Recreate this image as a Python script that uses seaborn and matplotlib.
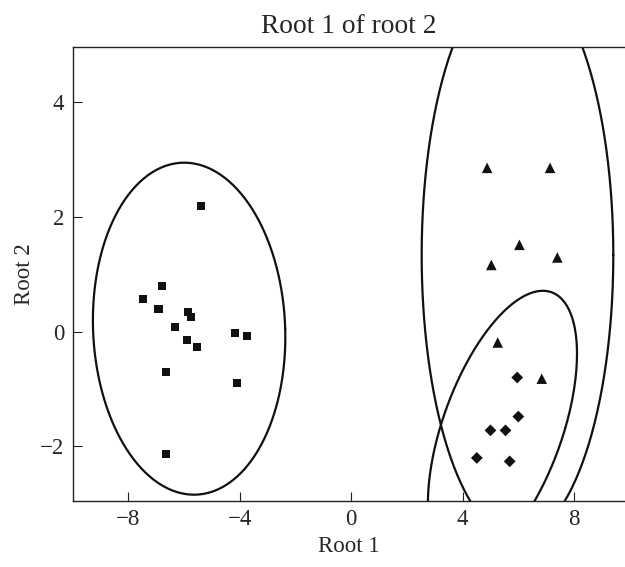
import numpy as np
import pandas as pd
import matplotlib
matplotlib.use("Agg")
import matplotlib.pyplot as plt
import seaborn as sns

# group 1 (squares)
sq_x = [-5.40, -6.79, -7.48, -6.92, -5.85, -5.76, -6.33, -5.91, -5.55, -4.17, -3.73, -6.66, -4.09, -6.66]
sq_y = [2.19, 0.80, 0.57, 0.40, 0.34, 0.25, 0.08, -0.14, -0.27, -0.03, -0.08, -0.70, -0.90, -2.13]
# group 2 (triangles)
tri_x = [4.88, 7.14, 6.04, 5.03, 7.40, 5.26, 6.84]
tri_y = [2.85, 2.85, 1.51, 1.16, 1.29, -0.19, -0.82]
# group 3 (diamonds)
dia_x = [5.96, 6.00, 5.00, 5.54, 4.51, 5.69]
dia_y = [-0.80, -1.48, -1.72, -1.72, -2.20, -2.26]

# confidence ellipses: center, horizontal half-axis, conjugate vector
ell_center = [(-5.82, 0.05), (5.97, 1.33), (5.43, -1.69)]
ell_u = [3.45, 3.44, 2.25]
ell_v = [(-0.175, 2.89), (0.0, 4.92), (1.45, 2.40)]

df = pd.DataFrame({
    "x": sq_x + tri_x + dia_x,
    "y": sq_y + tri_y + dia_y,
    "group": ["g1"] * len(sq_x) + ["g2"] * len(tri_x) + ["g3"] * len(dia_x),
})

sns.set_style("ticks")
plt.rcParams["font.family"] = ["Liberation Serif", "DejaVu Serif"]
plt.rcParams["font.size"] = 16.5

fig = plt.figure(figsize=(6.25, 5.67), dpi=100)
ax = fig.add_axes([0.1163, 0.1164, 0.8837, 0.8013])

sns.scatterplot(data=df, x="x", y="y", style="group", size="group",
                markers={"g1": "s", "g2": "^", "g3": "D"},
                sizes={"g1": 34, "g2": 58, "g3": 36},
                color="#111111", edgecolor="none",
                legend=False, ax=ax)

t = np.linspace(0, 2 * np.pi, 400)
for (cx, cy), a, (vx, vy) in zip(ell_center, ell_u, ell_v):
    ex = cx + a * np.cos(t) + vx * np.sin(t)
    ey = cy + vy * np.sin(t)
    ax.plot(ex, ey, color="#111111", lw=1.6)

ax.set_xlim(-10, 9.83)
ax.set_ylim(-2.95, 4.96)
ax.set_xticks([-8, -4, 0, 4, 8])
ax.set_yticks([-2, 0, 2, 4])
ax.tick_params(direction="in", length=6.5, width=0.8, color="#222222", pad=6)
ax.spines["right"].set_visible(False)
for s in ["left", "top", "bottom"]:
    ax.spines[s].set_linewidth(1.0)
    ax.spines[s].set_color("#222222")

ax.set_xlabel("Root 1")
ax.set_ylabel("Root 2")
ax.set_title("Root 1 of root 2", pad=10)

fig.savefig("out.png", dpi=100)
